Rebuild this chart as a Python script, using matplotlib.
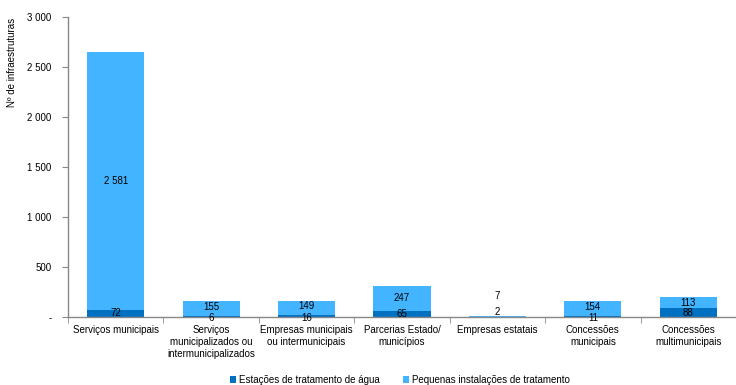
import matplotlib
matplotlib.use("Agg")
import matplotlib.pyplot as plt
import numpy as np

plt.rcParams['font.family'] = ['Liberation Sans', 'DejaVu Sans']

categories = ["Serviços municipais",
              "Serviços\nmunicipalizados ou\nintermunicipalizados",
              "Empresas municipais\nou intermunicipais",
              "Parcerias Estado/\nmunicípios",
              "Empresas estatais",
              "Concessões\nmunicipais",
              "Concessões\nmultimunicipais"]
eta = [72, 6, 16, 65, 2, 11, 88]
pit = [2581, 155, 149, 247, 7, 154, 113]
series_names = ["Estações de tratamento de água", "Pequenas instalações de tratamento"]
yticks = [0, 500, 1000, 1500, 2000, 2500, 3000]

def fmt(v):
    if v == 0:
        return "-"
    return f"{v:,}".replace(",", " ")

FS = 7
W, H = 736, 385
fig = plt.figure(figsize=(W/100, H/100), dpi=100)
left, right, bottom, top = 68, 736, 317, 17
ax = fig.add_axes([left/W, (H-bottom)/H, (right-left)/W, (bottom-top)/H])

cat_w = 96.3
x = np.arange(len(categories))
c_dark = "#0070C0"
c_light = "#43B4FF"
b1 = ax.bar(x, eta, width=0.6, color=c_dark, label=series_names[0], zorder=2)
b2 = ax.bar(x, pit, width=0.6, bottom=eta, color=c_light, label=series_names[1], zorder=2)

ax.set_xlim(-0.5, -0.5 + (right-left)/cat_w)
ax.set_ylim(0, 3000)
ax.set_yticks(yticks)
ax.set_yticklabels([fmt(v) for v in yticks], fontsize=FS)
ax.set_xticks(x)
ax.set_xticklabels(categories, fontsize=FS, linespacing=1.25)
ax.tick_params(axis='x', length=0, pad=6)
ax.set_xticks(np.arange(len(categories)+1) - 0.5, minor=True)
ax.tick_params(axis='x', which='minor', length=4, color='#888888', direction='out')
ax.tick_params(axis='y', length=4, color='#888888', direction='out', pad=8)
for lab in ax.get_yticklabels():
    lab.set_horizontalalignment('right')

for s in ['top', 'right']:
    ax.spines[s].set_visible(False)
for s in ['left', 'bottom']:
    ax.spines[s].set_color('#888888')
    ax.spines[s].set_linewidth(1.0)

ax.set_ylabel("Nº de infraestruturas", fontsize=FS)
ax.yaxis.set_label_coords(-0.0765, 0.85)

for i in range(len(categories)):
    e, p = eta[i], pit[i]
    if e + p < 50:
        ax.annotate(fmt(e), (i, 0), xytext=(0, 3.5), textcoords='offset points',
                    ha='center', va='center', fontsize=FS, color='black')
        ax.annotate(fmt(p), (i, 0), xytext=(0, 15), textcoords='offset points',
                    ha='center', va='center', fontsize=FS, color='black')
    else:
        dy_b, dy_t = 0, 0
        if e < 30:
            dy_b, dy_t = -1.0, 1.2
        ax.annotate(fmt(e), (i, e/2), xytext=(0, dy_b), textcoords='offset points',
                    ha='center', va='center', fontsize=FS, color='black', zorder=3)
        ax.annotate(fmt(p), (i, e + p/2), xytext=(0, dy_t), textcoords='offset points',
                    ha='center', va='center', fontsize=FS, color='black', zorder=3)

leg = fig.legend(handles=[b1, b2], labels=series_names, loc='center',
                 bbox_to_anchor=(400/W, (H-380)/H), ncol=2, frameon=False,
                 fontsize=FS, handlelength=0.6, handleheight=0.6,
                 handletextpad=0.3, columnspacing=2.4)

fig.savefig("out.png", dpi=100)
